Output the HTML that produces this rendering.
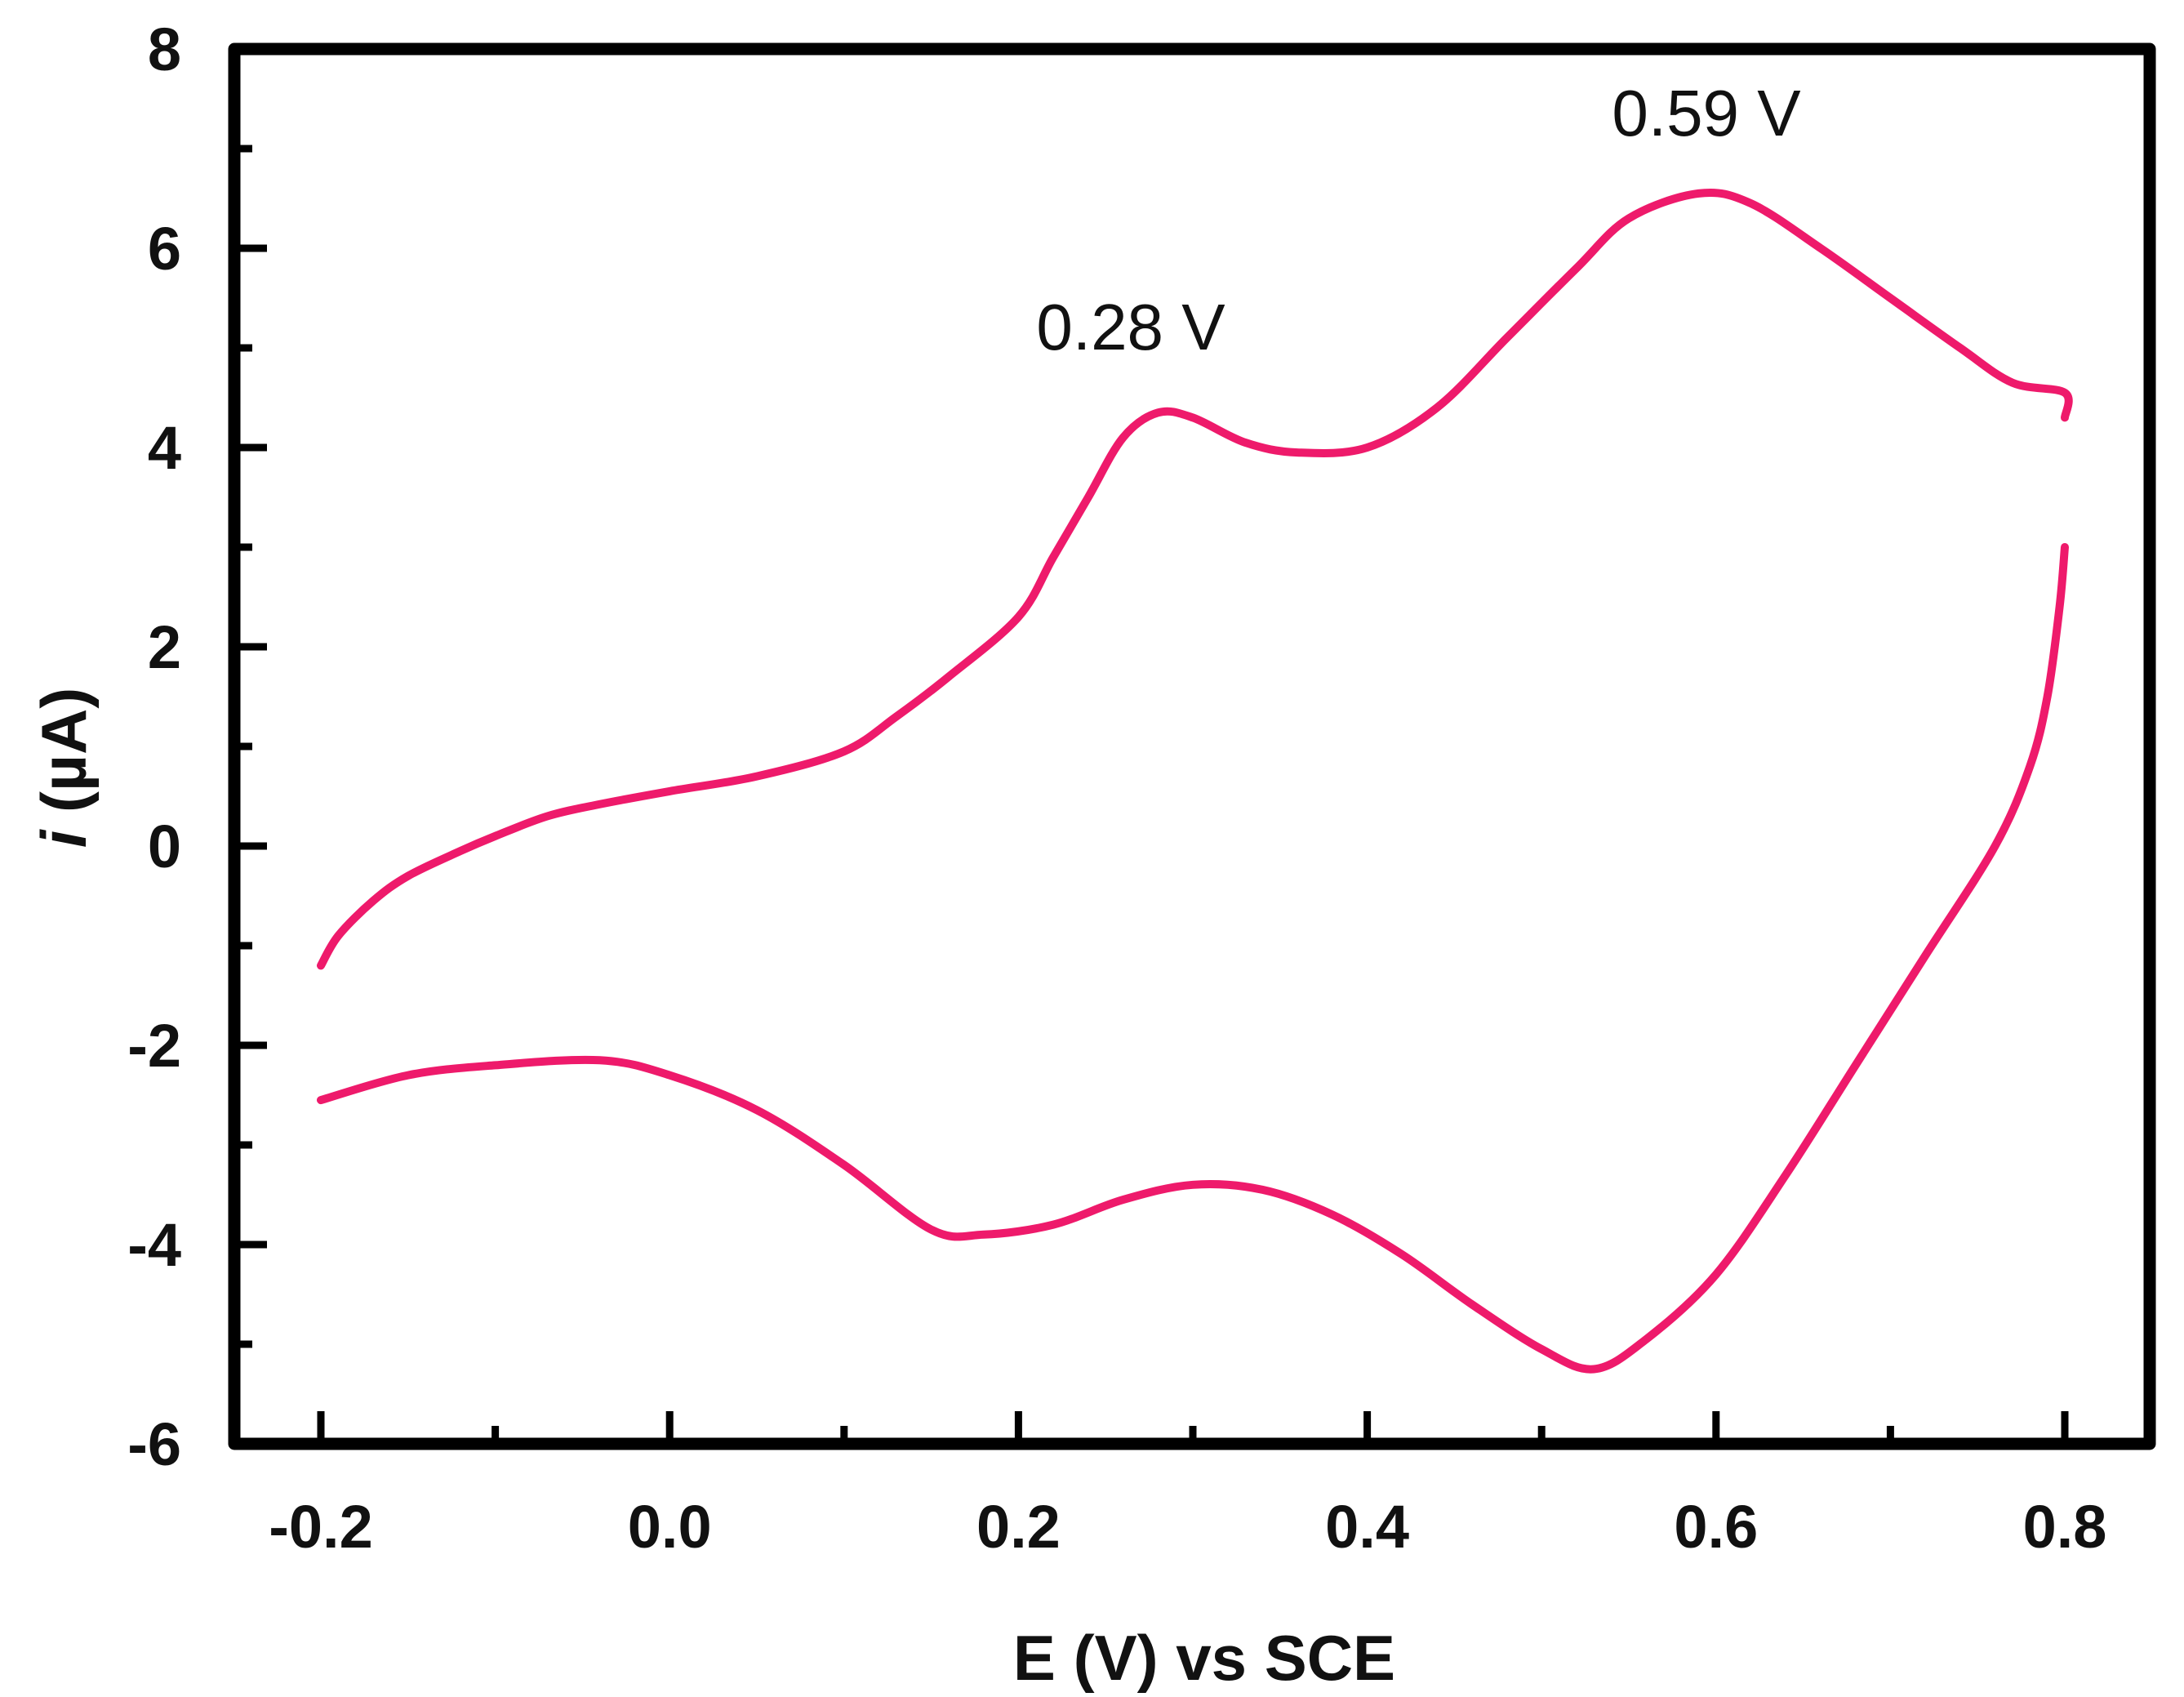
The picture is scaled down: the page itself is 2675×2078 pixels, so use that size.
<!DOCTYPE html>
<html><head><meta charset="utf-8"><style>
html,body{margin:0;padding:0;background:#fff;}
svg{display:block;}
text{font-family:"Liberation Sans",sans-serif;}
</style></head><body>
<svg id="chart" width="2675" height="2078" viewBox="0 0 2675 2078" xmlns="http://www.w3.org/2000/svg">
<g id="axes"></g>
<g id="series"></g>
<text x="1385" y="428" font-size="80" text-anchor="middle" fill="#111">0.28 V</text>
<text x="2090" y="166" font-size="80" text-anchor="middle" fill="#111">0.59 V</text>
<text x="1475" y="2057" font-size="78" font-weight="bold" text-anchor="middle" fill="#111">E (V) vs SCE</text>
<text transform="translate(105,940) rotate(-90)" font-size="78" font-weight="bold" text-anchor="middle" fill="#111"><tspan font-style="italic">i</tspan> (µA)</text>
</svg>
<script>
const xTicks = [-0.2, 0.0, 0.2, 0.4, 0.6, 0.8];
const xTickLabels = ["-0.2", "0.0", "0.2", "0.4", "0.6", "0.8"];
const yTicks = [-6, -4, -2, 0, 2, 4, 6, 8];
const yTickLabels = ["-6", "-4", "-2", "0", "2", "4", "6", "8"];
const anodicE = [-0.2,-0.19,-0.17,-0.15,-0.12,-0.1,-0.07,-0.04,0.0,0.05,0.1,0.13,0.16,0.2,0.22,0.24,0.26,0.28,0.3,0.33,0.36,0.4,0.44,0.48,0.52,0.55,0.59,0.62,0.66,0.7,0.74,0.77,0.8,0.8];
const anodicI = [-1.2,-0.9,-0.55,-0.3,-0.05,0.1,0.3,0.42,0.55,0.7,0.95,1.3,1.7,2.3,2.9,3.5,4.1,4.35,4.3,4.05,3.95,4.0,4.4,5.1,5.8,6.3,6.55,6.45,6.0,5.5,5.0,4.65,4.55,4.3];
const cathodicE = [0.8,0.797,0.79,0.78,0.76,0.72,0.68,0.64,0.6,0.56,0.53,0.5,0.46,0.42,0.38,0.34,0.3,0.26,0.22,0.18,0.15,0.1,0.05,0.0,-0.04,-0.1,-0.15,-0.2];
const cathodicI = [3.0,2.4,1.5,0.8,0.0,-1.1,-2.2,-3.3,-4.3,-4.95,-5.25,-5.05,-4.6,-4.1,-3.7,-3.45,-3.4,-3.55,-3.8,-3.9,-3.85,-3.2,-2.65,-2.3,-2.15,-2.2,-2.3,-2.55];

const NS = "http://www.w3.org/2000/svg";
const X0 = 393, X1 = 2529, E0 = -0.2, E1 = 0.8;
const Y0 = 1768, Y1 = 60, I0 = -6, I1 = 8;
function sx(v){ return X0 + (v - E0) / (E1 - E0) * (X1 - X0); }
function sy(v){ return Y0 + (v - I0) / (I1 - I0) * (Y1 - Y0); }
function mk(tag, attrs, parent){ const e = document.createElementNS(NS, tag); for (const k in attrs) e.setAttribute(k, attrs[k]); parent.appendChild(e); return e; }

const axesG = document.getElementById('axes');
const frameL = 287, frameR = 2633, frameT = 60, frameB = 1768;
const frame = mk('path', {d:`M${frameL},${frameB} L${frameL},${frameT} L${frameR},${frameT} L${frameR},${frameB} Z`, fill:'none', stroke:'#000', 'stroke-width':15, 'stroke-linejoin':'round'}, axesG);



for (let i = 0; i <= 10; i++) {
  const v = E0 + i * 0.1;
  const major = i % 2 === 0;
  const t = mk('line', {x1:sx(v), x2:sx(v), y1:frameB, y2:frameB - (major ? 40 : 22), stroke:'#000', 'stroke-width':9}, axesG);
  
  
}
xTicks.forEach((v, i) => {
  const t = mk('text', {x:sx(v), y:1895, 'font-size':74, 'font-weight':'bold', 'text-anchor':'middle', fill:'#111'}, axesG);
  t.textContent = xTickLabels[i];
  
  
});
for (let v = I0 + 1; v < I1; v++) {
  const major = v % 2 === 0;
  const t = mk('line', {x1:frameL, x2:frameL + (major ? 40 : 22), y1:sy(v), y2:sy(v), stroke:'#000', 'stroke-width':9}, axesG);
  
  
}
yTicks.forEach((v, i) => {
  const t = mk('text', {x:222, y:sy(v) + 26, 'font-size':74, 'font-weight':'bold', 'text-anchor':'end', fill:'#111'}, axesG);
  t.textContent = yTickLabels[i];
  
  
});

function smoothPath(xs, ys){
  const p = xs.map((x, i) => [sx(x), sy(ys[i])]);
  let d = `M${p[0][0]},${p[0][1]}`;
  for (let i = 0; i < p.length - 1; i++) {
    const p0 = p[i-1] || p[i], p1 = p[i], p2 = p[i+1], p3 = p[i+2] || p2;
    const c1 = [p1[0] + (p2[0]-p0[0])/6, p1[1] + (p2[1]-p0[1])/6];
    const c2 = [p2[0] - (p3[0]-p1[0])/6, p2[1] - (p3[1]-p1[1])/6];
    d += ` C${c1[0]},${c1[1]} ${c2[0]},${c2[1]} ${p2[0]},${p2[1]}`;
  }
  return d;
}
const seriesG = document.getElementById('series');
const anodicPath = mk('path', {d:smoothPath(anodicE, anodicI), fill:'none', stroke:'#ee1a6b', 'stroke-width':10, 'stroke-linecap':'round', 'stroke-linejoin':'round'}, seriesG);


const cathodicPath = mk('path', {d:smoothPath(cathodicE, cathodicI), fill:'none', stroke:'#ee1a6b', 'stroke-width':10, 'stroke-linecap':'round', 'stroke-linejoin':'round'}, seriesG);


</script>
</body></html>
